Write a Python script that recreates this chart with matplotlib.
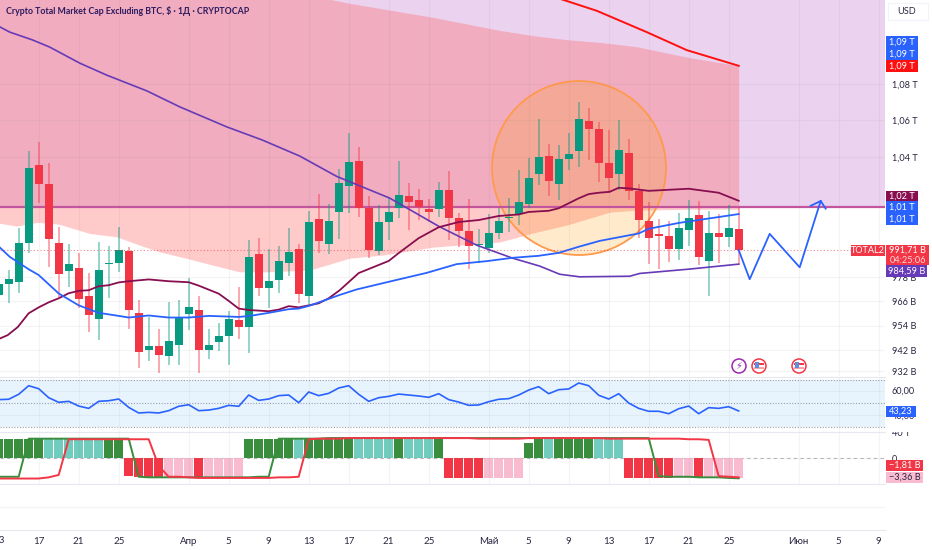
import numpy as np
import matplotlib
matplotlib.use("Agg")
import matplotlib.pyplot as plt
from matplotlib.patches import Circle, Rectangle
from matplotlib.transforms import IdentityTransform

plt.rcParams["font.family"] = ["Lato", "Noto Sans", "DejaVu Sans"]

W, H = 932, 550
PANE_R = 885
TEXT = "#2a2440"
GREEN = "#089981"
RED = "#F23645"
SIDE_FONT = 6.6

# days are counted from 1 March, so 17 March = 16, 1 April = 31, 1 May = 61
first_day = 12
opens = [969.0, 974.6, 975.5, 995.4, 1036.2, 1025.8, 995.4, 981.1, 982.8, 968.4, 957.2, 984.9, 985.1, 991.0, 960.1,
         942.1, 944.3, 939.4, 944.8, 959.8, 961.7, 942.2, 946.1, 949.2, 956.6, 953.3, 989.7, 972.4, 976.5, 985.3,
         992.1, 968.6, 1007.6, 994.8, 1011.2, 1025.0, 1038.0, 1013.4, 991.0, 1006.1, 1013.4, 1019.7, 1017.5, 1012.6,
         1012.7, 1022.7, 1008.0, 1001.4, 994.1, 992.6, 1000.5, 1008.0, 1010.0, 1015.2, 1031.4, 1040.5, 1025.8, 1039.0,
         1043.4, 1059.6, 1055.1, 1036.8, 1031.1, 1042.1, 1022.2, 1006.7, 999.7, 998.8, 992.2, 1002.1, 1009.5, 986.0,
         1000.3, 998.3, 1002.6]
closes = [974.5, 977.0, 995.4, 1034.1, 1025.8, 997.2, 979.6, 984.5, 967.0, 959.1, 981.8, 985.4, 991.5, 961.9, 941.0,
          944.0, 939.7, 946.3, 958.2, 963.0, 942.1, 944.6, 949.0, 957.5, 953.3, 988.0, 972.4, 976.1, 986.4, 990.5,
          969.5, 1005.9, 996.3, 1006.6, 1026.5, 1037.3, 1013.4, 991.5, 1006.1, 1011.3, 1020.1, 1016.6, 1013.8, 1011.2,
          1022.7, 1008.0, 1001.5, 993.7, 994.6, 1000.3, 1006.4, 1008.8, 1016.6, 1029.1, 1040.1, 1027.5, 1039.0, 1041.8,
          1060.5, 1055.1, 1037.1, 1029.3, 1043.9, 1022.2, 1006.9, 998.0, 999.0, 992.4, 1003.1, 1008.1, 988.0, 1000.5,
          998.3, 1002.8, 991.71]
highs = [979.0, 981.6, 1003.0, 1043.5, 1048.1, 1037.1, 1003.6, 994.6, 990.0, 979.9, 995.6, 993.7, 1003.6, 993.4, 966.5,
         958.3, 952.3, 965.5, 966.5, 977.4, 968.6, 952.3, 955.1, 961.3, 973.2, 996.8, 998.0, 992.1, 993.7, 1002.8,
         994.6, 1011.7, 1020.6, 1015.2, 1033.7, 1053.2, 1045.7, 1019.6, 1015.0, 1019.2, 1038.1, 1026.2, 1023.4, 1017.9,
         1027.0, 1032.7, 1011.0, 1018.0, 1002.6, 1010.1, 1013.6, 1018.7, 1033.2, 1039.7, 1060.6, 1047.4, 1046.5, 1053.2,
         1069.8, 1066.9, 1059.2, 1054.6, 1060.1, 1050.1, 1025.8, 1016.4, 1007.6, 1006.6, 1010.6, 1017.6, 1017.0, 1011.7,
         1010.1, 1014.8, 1013.7]
lows = [965.5, 965.2, 970.2, 990.2, 1016.1, 983.2, 968.1, 973.2, 962.9, 951.0, 947.2, 967.6, 980.7, 952.6, 933.3,
        937.0, 930.9, 934.9, 934.9, 951.8, 930.9, 937.6, 941.8, 934.9, 947.5, 940.8, 968.6, 962.7, 969.9, 978.5,
        965.2, 964.9, 990.3, 989.5, 997.3, 1011.0, 1008.8, 987.5, 989.0, 996.8, 1008.3, 1001.9, 1007.1, 1006.2,
        1008.8, 996.8, 993.1, 982.1, 985.4, 990.3, 997.5, 1001.0, 1004.5, 1013.1, 1025.3, 1019.6, 1017.5, 1033.2,
        1034.9, 1038.5, 1027.0, 1021.0, 1022.7, 1017.5, 997.8, 984.6, 981.9, 985.6, 986.6, 993.7, 984.1, 968.6,
        985.1, 993.2, 984.1]

# moving averages
purple_days = [11.1, 12.1, 13.1, 15.4, 17.1, 20.1, 22.8, 26.8, 30.1, 34.8, 38.4, 42.1, 45.8, 51.1, 56.1, 59.8, 63.4,
               66.1, 68.1, 70.1, 75.1, 76.1, 81.1, 86]
purple_vals = [1114.1, 1112.0, 1109.0, 1104.5, 1100.5, 1091.5, 1084.8, 1076.1, 1067.3, 1056.4, 1049.2, 1040.7, 1029.9,
               1018.5, 1003.6, 994.2, 987.6, 983.6, 979.5, 978.2, 978.5, 979.9, 982.1, 984.59]
maroon_days = [11.1, 12.1, 12.9, 13.9, 15, 16, 17, 18, 19, 20, 21, 22, 23, 24, 25, 27, 29, 31, 32, 34, 35, 36, 37, 39,
               40, 41, 42, 43, 44, 45, 46.1, 48, 51, 52, 54, 56, 58, 60, 62, 64, 65, 67, 68, 70, 71, 72, 73.1, 74, 75,
               77, 81, 84, 86]
maroon_vals = [946.0, 947.7, 949.4, 953.3, 960.1, 963.0, 965.5, 967.5, 970.0, 971.2, 971.5, 973.5, 974.0, 975.4, 976.0,
               976.9, 976.0, 975.5, 973.8, 969.8, 966.2, 962.4, 961.7, 961.1, 961.9, 963.6, 963.0, 964.0, 965.0, 967.5,
               971.5, 980.1, 986.2, 990.2, 997.8, 1003.4, 1006.1, 1007.1, 1009.2, 1010.0, 1011.3, 1011.9, 1013.2,
               1018.4, 1020.6, 1021.3, 1021.8, 1023.9, 1023.6, 1022.3, 1023.4, 1021.3, 1017.1]
blue_days = [11.1, 12.1, 13.1, 15, 16, 18, 20, 22, 24, 25, 27, 29, 31, 33, 36, 37, 39, 41, 42, 43, 45, 46, 47.8, 52,
             54.8, 57.8, 60.8, 63.4, 66, 68, 70, 72.1, 76, 77, 80, 86]
blue_vals = [995.3, 993.1, 988.3, 982.0, 979.1, 969.9, 964.0, 960.3, 958.8, 958.0, 959.0, 958.0, 958.0, 958.8, 958.3,
             958.7, 960.3, 962.1, 962.4, 963.7, 967.2, 969.0, 971.9, 976.9, 980.2, 984.6, 986.1, 987.8, 988.8, 990.3,
             993.4, 996.4, 1000.2, 1002.6, 1005.6, 1010.2]
red_days = [66, 68.5, 71.8, 76.8, 80.8, 86]
red_vals = [1132.0, 1127.4, 1121.2, 1109.0, 1098.8, 1090.0]

# pink cloud
cloud_top_days = [11, 24, 41, 45.1, 54.1, 57.4, 60.8, 64.1, 69.1, 72.4, 75.8, 79.1, 83.4, 86]
cloud_top_vals = [1139.0, 1139.0, 1133.0, 1127.4, 1118.7, 1115.5, 1111.3, 1107.9, 1104.5, 1103.0, 1100.7, 1096.6,
                  1092.2, 1090.0]
cloud_low_days = [11, 12.1, 13.8, 15.9, 18, 21.1, 23.8, 26.1, 28.1, 30.8, 33.4, 36.1, 38.8, 43.1, 47.1, 50.4, 55.4,
                  62.1, 65.4, 68.8, 72.1, 73.1, 75.8, 81.1, 86]
cloud_low_vals = [1005.6, 1005.4, 1004.0, 1005.9, 1005.0, 1000.2, 998.5, 994.2, 990.8, 987.5, 984.1, 980.7, 980.7,
                  981.6, 987.6, 989.2, 993.2, 995.8, 1000.4, 1004.5, 1009.6, 1011.2, 1012.2, 1012.7, 1012.7]

level = 1014.0
last_price = 991.71

# hand drawn forecast
path_days = [86, 87.1, 89.1, 92.1, 94.2]
path_vals = [991.7, 977.0, 1000.0, 983.0, 1017.0]
head_days = [93.2, 94.2, 94.7]
head_vals = [1014.5, 1017.0, 1013.0]

# RSI
rsi_vals = [52.6, 52.9, 57.0, 64.1, 61.6, 54.2, 50.4, 51.2, 47.3, 45.4, 51.2, 51.7, 53.1, 46.2, 41.6, 42.1, 41.6, 43.5,
            47.1, 48.4, 43.5, 44.0, 45.4, 47.9, 47.1, 56.4, 52.0, 53.1, 55.9, 56.4, 50.1, 58.9, 55.9, 57.8, 62.2, 64.1,
            57.0, 51.2, 54.2, 55.3, 57.2, 56.4, 55.6, 54.5, 57.5, 52.6, 50.6, 47.9, 48.2, 50.9, 52.9, 53.4, 56.4, 60.5,
            63.3, 57.5, 60.8, 61.4, 66.3, 64.1, 56.2, 53.1, 57.5, 49.8, 45.4, 43.0, 43.0, 41.0, 45.1, 47.3, 41.0, 46.0,
            45.4, 46.8, 43.23]

# histogram pane, values in billions
hist_vals = [3.3, 3.3, 3.3, 3.3, 3.3, 3.3, 3.3, 3.3, 3.3, 3.3, 3.3, 3.3, 3.3,
             -3.0, -3.2, -3.3, -3.3, -3.3, -3.3, -3.3, -3.3, -3.3, -3.3, -3.3, -3.3,
             3.3, 3.3, 3.3, 3.3, 3.3, 3.3, 3.3, 3.3, 3.3, 3.3, 3.3, 3.3, 3.3, 3.3, 3.3, 3.3, 3.3, 3.3, 3.3, 3.3,
             -3.3, -3.3, -3.3, -3.3, -3.3, -3.3, -3.3, -3.3,
             2.6, 3.3, 3.3, 3.3, 3.3, 3.3, 3.3, 3.2, 3.2, 3.2,
             -3.3, -3.3, -3.3, -3.3, -3.36, -3.36, -3.36, -3.36, -3.36, -3.36, -3.36, -3.36]
hist_kinds = "ddddd tttttt dd rrrr ppp r pppp ddddd t ddddd tttt d ttt d rrrr pppp dd t dddd ttt rrrrr pp r pppp".replace(" ", "")
hist_cols = {"d": "#388E3C", "t": "#70CCBD", "r": RED, "p": "#F8BBD0"}
sig_green = [-3.1, -3.1, -3.1, 3.3, 3.3, 3.3, 3.3, 3.3, 3.3, 3.3, 3.3, 3.3, 3.3, 3.3, -3.1, -3.2, -3.2, -3.2, -3.2,
             -3.2, -3.2, -3.2, -3.2, -3.2, -3.2, -3.2, -3.1, -3.1, 3.3, 3.3, 3.3, 3.3, 3.3, 3.4, 3.4, 3.4, 3.4, 3.4,
             3.4, 3.4, 3.4, 3.4, 3.4, 3.4, 3.4, 3.4, 3.4, 3.4, 3.4, 3.4, 3.4, 3.4, 3.4, 3.4, 3.4, 3.4, 3.4, 3.4, 3.4,
             3.4, 3.4, 3.4, 3.4, 3.4, 3.4, 3.4, -3.0, -3.1, -3.1, -3.1, -3.2, -3.2, -3.2, -3.3, -3.36]
sig_red = [-3.4, -3.4, -3.4, -3.4, -3.4, -3.2, -2.8, 3.2, 3.2, 3.2, 3.2, 3.2, 3.2, 3.2, 3.2, 3.2, -1.3, -3.1, -3.1,
           -3.2, -3.3, -3.3, -3.3, -3.3, -3.3, -3.3, -3.3, -3.3, -3.2, -3.2, -3.1, 3.2, 3.3, 3.3, 3.3, 3.4, 3.4, 3.4,
           3.4, 3.4, 3.4, 3.4, 3.4, 3.4, 3.4, 3.4, 3.4, 3.4, 3.3, 3.3, 3.3, 3.3, 3.3, 3.4, 3.4, 3.4, 3.4, 3.4, 3.4, 3.4,
           3.4, 3.3, 3.3, 3.3, 3.3, 3.3, 3.3, 3.3, 3.3, 3.2, 3.2, 3.1, -3.0, -3.1, -3.2]

# axis text
price_ticks = [932, 942, 954, 966, 978, 1040, 1060, 1080]
price_labels = ["932 B", "942 B", "954 B", "966 B", "978 B", "1,04 T", "1,06 T", "1,08 T"]
date_ticks = [16, 20, 24, 31, 35, 39, 43, 47, 51, 55, 61, 65, 69, 73, 77, 81, 85, 92, 96, 100]
date_labels = ["17", "21", "25", "Апр", "5", "9", "13", "17", "21", "25", "Май", "5", "9", "13", "17", "21", "25",
               "Июн", "5", "9"]

days = first_day + np.arange(len(closes))


def pane(top, bottom):
    a = fig.add_axes([0, 1 - bottom / H, PANE_R / W, (bottom - top) / H])
    a.set_xlim(12.13, 100.63)
    for s in a.spines.values():
        s.set_visible(False)
    a.set_xticks(date_ticks)
    a.tick_params(axis="x", length=0, labelbottom=False)
    a.tick_params(axis="y", length=0, labelsize=SIDE_FONT, labelcolor=TEXT, pad=5)
    a.yaxis.tick_right()
    a.grid(True, color="#787b86", alpha=0.08, lw=0.8)
    a.set_axisbelow(False)
    return a


def tag(x0, x1, y0, y1, color, label, tcolor="white"):
    fig.add_artist(Rectangle((x0 / W, 1 - y1 / H), (x1 - x0) / W, (y1 - y0) / H, transform=fig.transFigure,
                             facecolor=color, edgecolor="none", zorder=5))
    fig.text((x0 + x1) / 2 / W, 1 - (y0 + y1) / 2 / H, label, color=tcolor, fontsize=SIDE_FONT, ha="center",
             va="center", zorder=6)


fig = plt.figure(figsize=(W / 100, H / 100), dpi=100, facecolor="white")

# main pane
ax = pane(0, 376)
ax.set_yscale("log")
ax.set_ylim(929.7, 1127.4)
ax.set_yticks(price_ticks)
ax.set_yticklabels(price_labels)
ax.minorticks_off()

ax.fill_between([12.13, 100.63], level, 1127.4, color="#9C27B0", alpha=0.2, lw=0, zorder=1)
top_on_low = np.interp(cloud_low_days, cloud_top_days, cloud_top_vals)
ax.fill_between(cloud_low_days, cloud_low_vals, top_on_low, color="#FF5252", alpha=0.3, lw=0, zorder=1.1)
ax.add_patch(Circle((579, H - 168), 87, transform=IdentityTransform(), facecolor="#FF9800", alpha=0.2, lw=0,
                    zorder=1.2))
ax.add_patch(Circle((579, H - 168), 87, transform=IdentityTransform(), facecolor="none", edgecolor="#FF9A4D", lw=1.3,
                    zorder=1.3))
ax.axhline(level, color="#C2559D", lw=1.6, zorder=1.4)

is_up = np.array(closes) >= np.array(opens)
cols = np.where(is_up, GREEN, RED)
ax.vlines(days, lows, highs, colors=cols, lw=1.2, alpha=0.5, zorder=3)
ax.bar(days, np.array(closes) - np.array(opens), bottom=opens, width=0.8, color=cols, lw=0, zorder=3.1)

ax.plot(purple_days, purple_vals, color="#673AB7", lw=1.2, zorder=4)
ax.plot(maroon_days, maroon_vals, color="#880E4F", lw=1.3, zorder=4)
ax.plot(blue_days, blue_vals, color="#2962FF", lw=1.3, zorder=4)
ax.plot(red_days, red_vals, color="#FF1010", lw=1.4, zorder=4)
ax.plot(path_days, path_vals, color="#2962FF", lw=1.3, zorder=4.2)
ax.plot(head_days, head_vals, color="#2962FF", lw=1.3, zorder=4.2)
ax.axhline(last_price, color=RED, lw=0.8, ls=(0, (1, 2)), alpha=0.6, zorder=4.1)

# RSI pane
ax_rsi = pane(378, 432)
ax_rsi.set_ylim(25.9, 70.45)
ax_rsi.set_yticks([40, 60])
ax_rsi.set_yticklabels(["40,00", "60,00"])
ax_rsi.fill_between([12.13, 100.63], 30, 69.2, color="#2196F3", alpha=0.1, lw=0)
for v in (30, 50, 69.2):
    ax_rsi.axhline(v, color="#787b86", lw=0.8, ls=(0, (1, 1.5)), alpha=0.7)
ax_rsi.plot(days, rsi_vals, color="#2962FF", lw=1.2)

# histogram pane
ax_hist = pane(432, 484)
ax_hist.set_ylim(-4.32, 4.42)
ax_hist.set_yticks([0])
ax_hist.set_yticklabels(["0"])
ax_hist.axhline(0, color="#787b86", lw=0.8, ls=(0, (3, 3)), alpha=0.5)
ax_hist.bar(days, hist_vals, width=0.95, color=[hist_cols[k] for k in hist_kinds], lw=0, zorder=2)
ax_hist.plot(days, sig_green, color="#388E3C", lw=1.4, zorder=3)
ax_hist.plot(days, sig_red, color=RED, lw=1.4, zorder=3.1)

# empty pane and date axis
ax_time = pane(484, 530)
ax_time.set_ylim(0, 1)
ax_time.set_yticks([0.49])
ax_time.set_yticklabels([""])
ax_time.grid(False, axis="x")
ax_time.set_xticklabels(date_labels)
ax_time.tick_params(axis="x", labelbottom=True, labelsize=7.0, labelcolor=TEXT, pad=5)
ax_time.text(12, -0.23, "13", ha="center", va="center", fontsize=7.0, color=TEXT)

for y in (377, 432, 484, 530):
    fig.add_artist(plt.Line2D([0, PANE_R / W], [1 - y / H] * 2, color="#e0e3eb", lw=0.8, alpha=0.8))

# title and right side tags
fig.text(5.5 / W, 1 - 11 / H, "Crypto Total Market Cap Excluding BTC, $ · 1Д · CRYPTOCAP", color="#2a1a5e",
         fontsize=6.35, fontweight="bold", va="center")
fig.add_artist(Rectangle((888 / W, 1 - 20 / H), 40 / W, 17 / H, transform=fig.transFigure, facecolor="white",
                         edgecolor="#f0f3fa", lw=0.8))
fig.text(907 / W, 1 - 11 / H, "USD", color=TEXT, fontsize=SIDE_FONT, ha="center", va="center")

tag(886, 918, 36, 48, "#2962FF", "1,09 T")
tag(886, 918, 48, 60, "#2962FF", "1,09 T")
tag(886, 918, 60, 72, "#FF1010", "1,09 T")
tag(886, 918, 190.5, 201.5, "#880E4F", "1,02 T")
tag(886, 918, 201.5, 213, "#2962FF", "1,01 T")
tag(886, 918, 213, 225, "#2962FF", "1,01 T")
tag(851, 885, 245, 256, RED, "TOTAL2")
tag(886, 929, 245, 256, RED, "991,71 B")
tag(886, 929, 256, 265, RED, "04:25:06", "#ffd5d8")
tag(886, 927, 265, 277, "#673AB7", "984,59 B")
tag(886, 916, 406, 417, "#2962FF", "43,23")
tag(886, 923, 460, 471, RED, "−1,81 B")
tag(886, 923, 472, 483, "#F8BBD0", "−3,36 B", TEXT)
fig.text(892 / W, 1 - 433 / H, "40 T", color=TEXT, fontsize=SIDE_FONT, va="center", zorder=3)
fig.add_artist(Rectangle((886 / W, 1 - 431.5 / H), 46 / W, 8 / H, transform=fig.transFigure, facecolor="white",
                         edgecolor="none", zorder=4))

# event icons under the candles
for px in (759, 799):
    ax.add_patch(Circle((px, H - 366), 7, transform=IdentityTransform(), facecolor="white", edgecolor=RED, lw=1.1,
                        zorder=6))
    ax.add_patch(Rectangle((px - 5, H - 369), 10, 2, transform=IdentityTransform(), facecolor="#F7A0A8", lw=0, zorder=7))
    ax.add_patch(Rectangle((px - 5, H - 365), 10, 2, transform=IdentityTransform(), facecolor=RED, lw=0, zorder=7))
    ax.add_patch(Rectangle((px - 4, H - 368), 4, 6, transform=IdentityTransform(), facecolor="#5B8FE0", lw=0, zorder=7.1))
ax.add_patch(Circle((739, H - 366), 7, transform=IdentityTransform(), facecolor="white", edgecolor="#9C27B0", lw=1.1,
                    zorder=6))
fig.text(739 / W, 1 - 366 / H, "\u26a1", color="#9C27B0", fontsize=7, ha="center", va="center",
         family="DejaVu Sans", zorder=7)

fig.savefig("out.png", dpi=100)
